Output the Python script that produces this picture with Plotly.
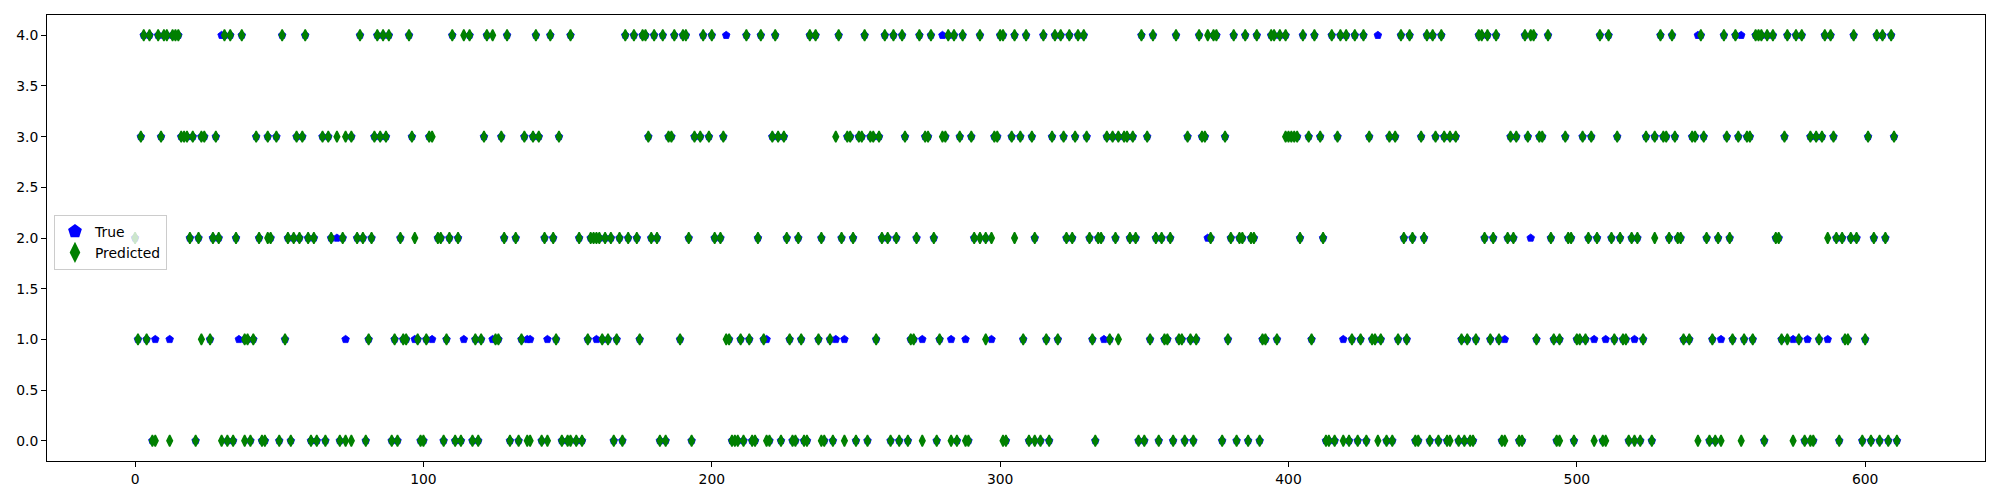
import plotly.graph_objects as go

# Predicted class: x indices where the green diamond sits at each level
pred_4 = [3, 5, 8, 10, 11, 13, 14, 15, 31, 33, 37, 51, 59,
          78, 84, 86, 88, 95, 110, 114, 116, 122, 124, 129, 139, 144, 151,
          170, 173, 176, 177, 180, 183, 187, 190, 191, 197, 200, 212, 217, 222,
          234, 236, 244, 253, 260, 263, 266, 272, 276, 282, 284, 287, 293, 300, 301,
          305, 309, 315, 319, 321, 324, 327, 329, 349, 353, 361, 369, 372, 374, 375,
          381, 385, 389, 394, 395, 397, 399, 405, 409, 415, 418, 420, 423, 426, 439, 442, 448, 450, 453,
          466, 467, 469, 472, 482, 484, 485, 490, 508, 511, 529,
          533, 543, 551, 555, 562, 563, 564, 566, 568, 573, 576, 578, 586, 588, 596, 604, 606, 609]
pred_3 = [2, 9, 16, 17, 18, 20, 23, 24, 28, 42, 46, 49, 56, 58, 65, 67, 70, 73,
          75, 83, 85, 87, 96, 102, 103, 121, 127, 135, 138, 140, 147,
          178, 185, 186, 194, 196, 199, 204, 221, 223, 225,
          243, 247, 248, 251, 252, 255, 256, 258, 267, 274, 275, 280, 281, 286, 290, 298, 299,
          304, 307, 311, 318, 322, 326, 330, 337, 339, 341, 343, 344, 346, 351, 365, 370, 371, 378,
          399, 400, 401, 402, 403, 407, 411, 417, 428, 435, 437, 446, 451, 454,
          456, 458, 477, 479, 483, 487, 488, 496, 502, 505, 514, 524, 527, 530,
          531, 534, 540, 541, 544, 552, 556, 559, 560, 572, 581, 583, 585, 589, 601, 610]
pred_2 = [0, 19, 22, 27, 29, 35, 43, 46, 47, 53, 55, 57, 60, 62, 68, 72,
          77, 79, 82, 92, 97, 105, 106, 109, 112, 128, 132, 142, 145,
          154, 158, 159, 160, 161, 163, 165, 168, 171, 174, 179, 181, 192, 201, 203, 216, 226,
          230, 238, 245, 249, 259, 261, 264, 271, 277, 291, 293, 295, 297,
          305, 312, 323, 325, 331, 334, 335, 340, 345, 347, 354, 356, 359, 373,
          380, 383, 384, 387, 388, 404, 412, 440, 443, 447,
          468, 471, 476, 478, 491, 497, 498, 504, 507, 512, 515, 519, 521, 527,
          532, 535, 536, 545, 549, 553, 569, 570, 587, 590, 592, 595, 597, 603, 607]
pred_1 = [1, 4, 23, 26, 38, 39, 41, 52,
          81, 90, 93, 94, 98, 101, 108, 118, 120, 125, 126, 134, 146,
          157, 162, 164, 167, 175, 189, 205, 206, 210, 213, 218,
          227, 231, 237, 241, 257, 269, 270, 279, 295,
          308, 316, 320, 332, 338, 341, 352, 357, 358, 362, 363, 366, 368, 379,
          391, 392, 396, 408, 422, 425, 429, 430, 432, 438, 441,
          460, 462, 465, 470, 473, 486, 492, 494, 500, 501, 503, 513, 516, 517, 523,
          537, 539, 547, 554, 558, 561, 571, 573, 577, 584, 593, 594, 600]
pred_0 = [6, 7, 12, 21, 30, 32, 34, 38, 40, 44, 45, 50, 54, 61, 63, 66, 71, 73, 75, 80,
          89, 91, 99, 100, 107, 111, 113, 117, 119, 130, 133, 136, 137, 141, 143,
          148, 150, 151, 153, 155, 166, 169, 182, 184, 193, 207, 208, 209, 211, 214, 215, 219, 220, 224,
          228, 229, 232, 233, 238, 239, 242, 246, 250, 254, 262, 265, 268, 273, 278, 283, 285, 288, 289,
          301, 302, 310, 312, 314, 317, 333, 348, 350, 355, 360, 364, 367, 377,
          382, 386, 390, 413, 414, 416, 419, 421, 424, 427, 431, 434, 436, 444, 445, 449, 452, 455,
          456, 459, 461, 463, 464, 474, 475, 480, 481, 493, 494, 499, 506, 509, 510, 518, 520, 522, 526,
          542, 546, 548, 550, 557, 565, 575, 579, 581, 582, 591, 599, 602, 605, 608, 611]

# True class where it differs from the prediction (visible blue pentagons)
miss_true_4 = [30, 205, 280, 431, 542, 557]
miss_true_2 = [70, 372, 484]
miss_true_1 = [7, 12, 36, 73, 97, 103, 114, 124, 136, 137, 143, 160, 219, 243, 246,
               273, 283, 288, 297, 336, 419, 475, 506, 510, 520, 550, 575, 580, 587]

pred_rows = {4: pred_4, 3: pred_3, 2: pred_2, 1: pred_1, 0: pred_0}
pred_pts = sorted((x, lvl) for lvl, xs in pred_rows.items() for x in xs)
px = [p[0] for p in pred_pts]
py = [p[1] for p in pred_pts]

true_map = {x: y for x, y in pred_pts}
for lvl, xs in ((4, miss_true_4), (2, miss_true_2), (1, miss_true_1)):
    for x in xs:
        true_map[x] = lvl
tx = sorted(true_map)
ty = [true_map[x] for x in tx]

fig = go.Figure()
fig.add_trace(go.Scatter(
    x=tx, y=ty, mode="markers", name="True",
    marker=dict(symbol="pentagon", size=8, color="blue", line=dict(width=0.8, color="blue")),
))
fig.add_trace(go.Scatter(
    x=px, y=py, mode="markers", name="Predicted",
    marker=dict(symbol="diamond-tall", size=8, color="green", line=dict(width=1.5, color="green")),
))

axis_common = dict(
    showline=True, linecolor="black", linewidth=1, mirror=True,
    ticks="outside", ticklen=5, tickwidth=1, tickcolor="black",
    showgrid=False, zeroline=False, automargin=False,
    tickfont=dict(family="DejaVu Sans", size=13.9, color="black"),
)
fig.update_xaxes(range=[-30.55, 641.55], tickmode="linear", tick0=0, dtick=100, **axis_common)
fig.update_yaxes(range=[-0.2, 4.2], tickmode="linear", tick0=0, dtick=0.5, tickformat=".1f", **axis_common)

fig.update_layout(
    width=2000, height=500,
    margin=dict(l=47.3, r=14.7, t=15.3, b=38.7),
    plot_bgcolor="white", paper_bgcolor="white",
    font=dict(family="DejaVu Sans", size=13.9, color="black"),
    legend=dict(
        x=0.0036, y=0.552, xanchor="left", yanchor="top",
        bgcolor="rgba(255,255,255,0.8)", bordercolor="#cccccc", borderwidth=1,
        font=dict(family="DejaVu Sans", size=13.9, color="black"),
        tracegroupgap=0, itemsizing="constant",
    ),
    showlegend=True,
)

fig.write_html(
    "out.html",
    config={"displayModeBar": False},
    post_script="document.body.style.margin='0px'; document.body.style.overflow='hidden';",
)
